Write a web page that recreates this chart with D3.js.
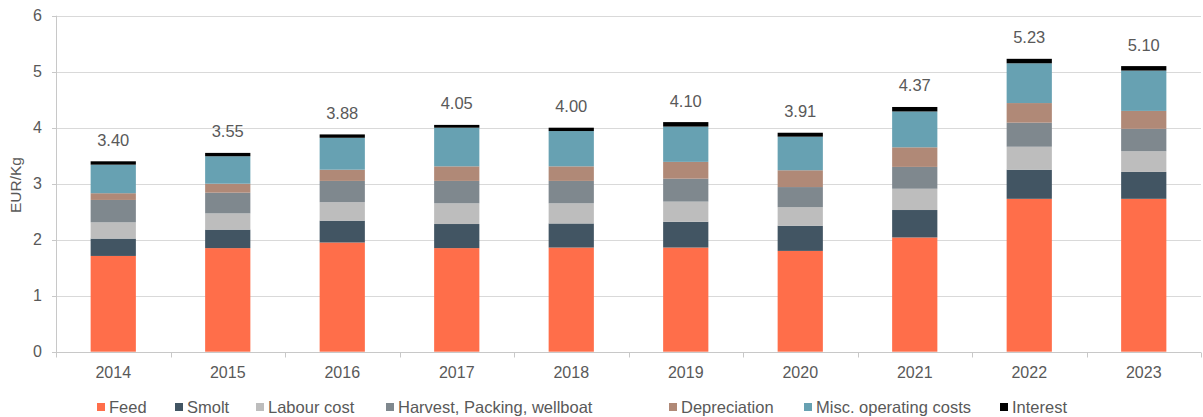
<!DOCTYPE html>
<html>
<head>
<meta charset="utf-8">
<script src="https://cdn.jsdelivr.net/npm/d3@7"></script>
<style>
  html, body { margin: 0; padding: 0; background: #fff; }
  svg { display: block; }
  text { font-family: "Liberation Sans", Arial, sans-serif; fill: #595959; }
</style>
</head>
<body>
<svg id="chart" width="1203" height="417"></svg>
<script>
const years = ["2014","2015","2016","2017","2018","2019","2020","2021","2022","2023"];
const seriesNames = ["Feed","Smolt","Labour cost","Harvest, Packing, wellboat","Depreciation","Misc. operating costs","Interest"];
const feed         = [1.71, 1.85, 1.95, 1.85, 1.86, 1.86, 1.80, 2.04, 2.73, 2.73];
const smolt        = [0.31, 0.33, 0.39, 0.43, 0.43, 0.46, 0.45, 0.49, 0.52, 0.48];
const labour       = [0.29, 0.29, 0.33, 0.37, 0.36, 0.36, 0.33, 0.38, 0.41, 0.37];
const harvest      = [0.40, 0.37, 0.38, 0.40, 0.40, 0.41, 0.36, 0.39, 0.43, 0.40];
const depreciation = [0.12, 0.16, 0.20, 0.26, 0.26, 0.30, 0.30, 0.35, 0.35, 0.32];
const misc         = [0.51, 0.49, 0.57, 0.69, 0.63, 0.63, 0.60, 0.64, 0.71, 0.72];
const interest     = [0.06, 0.06, 0.06, 0.05, 0.06, 0.08, 0.07, 0.08, 0.08, 0.08];
const totalLabels  = ["3.40","3.55","3.88","4.05","4.00","4.10","3.91","4.37","5.23","5.10"];
const yTicks = [0, 1, 2, 3, 4, 5, 6];
const colors = ["#FF6E4A","#425563","#BDBDBD","#7F888E","#B08977","#67A1B2","#000000"];

const seriesValues = [feed, smolt, labour, harvest, depreciation, misc, interest];
const table = years.map((yr, i) => {
  const row = { year: yr };
  seriesNames.forEach((s, k) => row[s] = seriesValues[k][i]);
  row.total = seriesValues.reduce((a, arr) => a + arr[i], 0);
  row.label = totalLabels[i];
  return row;
});

const svg = d3.select("#chart");
const plotL = 56, plotR = 1201, plotT = 15.7, plotB = 351.7;

const x = d3.scaleBand().domain(years).range([plotL, plotR]).paddingInner(0.605).paddingOuter(0.3025);
const xCat = d3.scaleBand().domain(years).range([plotL, plotR]).padding(0);
const y = d3.scaleLinear().domain([0, 6]).range([plotB, plotT]);

// gridlines
svg.append("g").selectAll("line").data(yTicks.filter(t => t > 0)).join("line")
  .attr("x1", plotL).attr("x2", plotR)
  .attr("y1", d => Math.round(y(d)) + 0.5).attr("y2", d => Math.round(y(d)) + 0.5)
  .attr("stroke", "#d9d9d9").attr("stroke-width", 1);

// stacked bars
const stack = d3.stack().keys(seriesNames)(table);
svg.append("g").selectAll("g").data(stack).join("g")
  .attr("fill", (d, i) => colors[i])
  .selectAll("rect").data(d => d).join("rect")
  .attr("x", d => x(d.data.year))
  .attr("width", x.bandwidth())
  .attr("y", d => y(d[1]))
  .attr("height", d => y(d[0]) - y(d[1]));

// x axis line + ticks at category boundaries
const axisY = Math.round(y(0)) + 0.5;
svg.append("line").attr("x1", plotL).attr("x2", plotR).attr("y1", axisY).attr("y2", axisY)
  .attr("stroke", "#c8c8c8").attr("stroke-width", 1);
const boundaries = years.map(yr => xCat(yr)).concat([plotR]);
svg.append("g").selectAll("line").data(boundaries).join("line")
  .attr("x1", d => Math.round(d) + 0.5).attr("x2", d => Math.round(d) + 0.5)
  .attr("y1", axisY).attr("y2", axisY + 5)
  .attr("stroke", "#c8c8c8");
// y axis line
svg.append("line").attr("x1", plotL + 0.5).attr("x2", plotL + 0.5).attr("y1", plotT).attr("y2", axisY)
  .attr("stroke", "#c8c8c8");
svg.append("g").selectAll("line").data(yTicks).join("line")
  .attr("x1", plotL - 4).attr("x2", plotL)
  .attr("y1", d => Math.round(y(d)) + 0.5).attr("y2", d => Math.round(y(d)) + 0.5)
  .attr("stroke", "#c8c8c8");

// y tick labels
svg.append("g").selectAll("text").data(yTicks).join("text")
  .attr("x", 42).attr("y", d => y(d) + 5.5)
  .attr("text-anchor", "end").attr("font-size", 16)
  .text(d => d);

// x labels
svg.append("g").selectAll("text").data(years).join("text")
  .attr("x", d => x(d) + x.bandwidth() / 2).attr("y", 378)
  .attr("text-anchor", "middle").attr("font-size", 16)
  .text(d => d);

// total labels
svg.append("g").selectAll("text").data(table).join("text")
  .attr("x", d => x(d.year) + x.bandwidth() / 2)
  .attr("y", d => y(d.total) - 15.5)
  .attr("text-anchor", "middle").attr("font-size", 16.5)
  .text(d => d.label);

// y title
svg.append("text").attr("transform", "translate(21,185) rotate(-90)")
  .attr("text-anchor", "middle").attr("font-size", 15.5).text("EUR/Kg");

// legend (item start positions follow the reference layout)
const legendX = [97, 175, 256, 386, 669, 804, 1000];
const items = svg.append("g").selectAll("g").data(seriesNames).join("g")
  .attr("transform", (d, i) => `translate(${legendX[i]},0)`);
items.append("rect").attr("width", 8).attr("height", 8).attr("y", 403).attr("fill", (d, i) => colors[i]);
items.append("text").attr("x", 12).attr("y", 413).attr("font-size", 16.5).text(d => d);
</script>
</body>
</html>
